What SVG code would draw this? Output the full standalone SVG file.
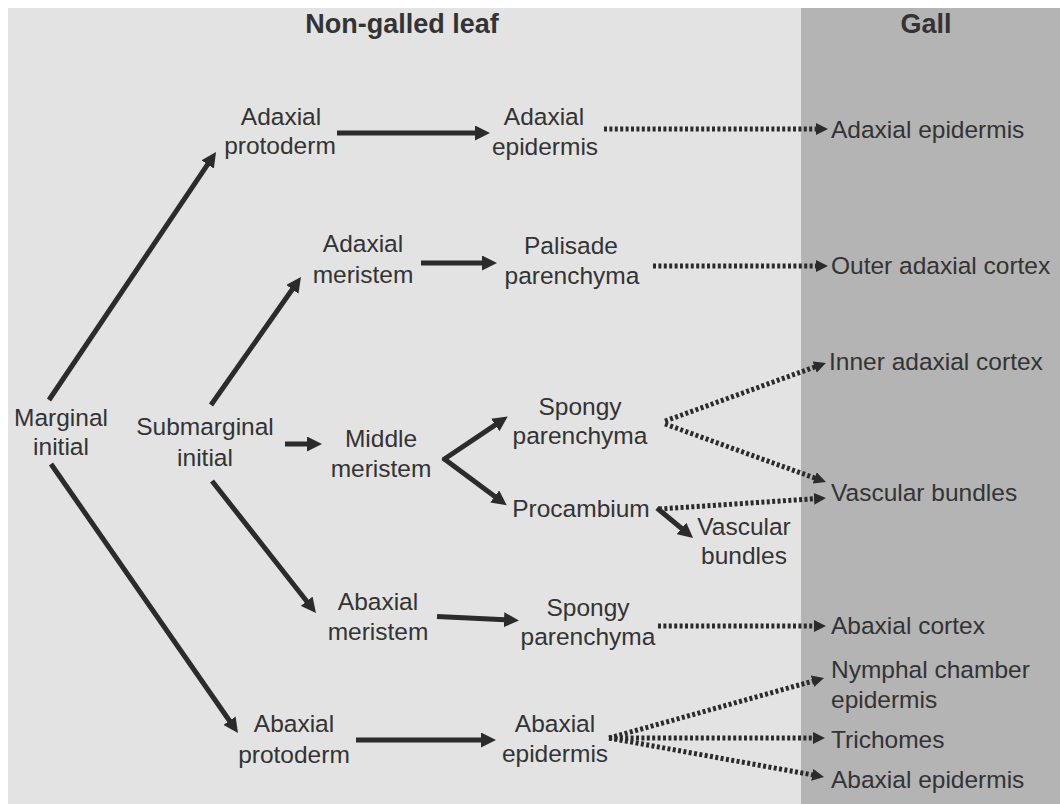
<svg xmlns="http://www.w3.org/2000/svg" width="1060" height="804" viewBox="0 0 1060 804">
<style>
text{font-family:"Liberation Sans",Arial,sans-serif;font-size:24.5px;fill:#333333}
.m{text-anchor:middle}
.h{font-weight:bold;font-size:27px;text-anchor:middle}
.s{stroke:#2b2b2b;stroke-width:5;fill:none}
.d{stroke:#2b2b2b;stroke-width:5;fill:none;stroke-dasharray:3 2.4}
</style>
<defs>
<marker id="ah" markerUnits="userSpaceOnUse" markerWidth="15" markerHeight="15" viewBox="0 0 15 15" refX="1" refY="7.5" orient="auto"><path d="M0,0 L15,7.5 L0,15 z" fill="#2b2b2b"/></marker>
<marker id="ad" markerUnits="userSpaceOnUse" markerWidth="12" markerHeight="12" viewBox="0 0 12 12" refX="1" refY="6" orient="auto"><path d="M0,0 L12,6 L0,12 z" fill="#2b2b2b"/></marker>
</defs>
<rect x="0" y="0" width="1060" height="804" fill="#ffffff"/>
<rect x="8" y="8" width="793" height="796" fill="#e3e3e3"/>
<rect x="801" y="8" width="259" height="796" fill="#b4b4b4"/>
<g id="titles">
<text class="h" x="402" y="33">Non-galled leaf</text>
<text class="h" x="926" y="33">Gall</text>
</g>
<g id="connectors">
<line class="s" x1="49" y1="400" x2="208.2" y2="163.6" marker-end="url(#ah)"/>
<line class="s" x1="51" y1="464" x2="230" y2="721.5" marker-end="url(#ah)"/>
<line class="s" x1="337" y1="133" x2="476" y2="133" marker-end="url(#ah)"/>
<line class="s" x1="211" y1="405" x2="292.9" y2="288.5" marker-end="url(#ah)"/>
<line class="s" x1="421" y1="263" x2="483" y2="263" marker-end="url(#ah)"/>
<line class="s" x1="285" y1="444" x2="308" y2="444" marker-end="url(#ah)"/>
<line class="s" x1="443" y1="460" x2="496.1" y2="424.4" marker-end="url(#ah)"/>
<line class="s" x1="443" y1="458" x2="495.5" y2="497" marker-end="url(#ah)"/>
<line class="s" x1="212" y1="481" x2="307.3" y2="602" marker-end="url(#ah)"/>
<line class="s" x1="437" y1="616.5" x2="505" y2="619.8" marker-end="url(#ah)"/>
<line class="s" x1="356" y1="740" x2="482" y2="740" marker-end="url(#ah)"/>
<line class="s" x1="657" y1="508" x2="682.3" y2="529" marker-end="url(#ah)"/>
<line class="d" x1="604" y1="129" x2="817" y2="129" marker-end="url(#ad)"/>
<line class="d" x1="653" y1="266" x2="817" y2="266" marker-end="url(#ad)"/>
<line class="d" x1="665" y1="421" x2="815.6" y2="366.7" marker-end="url(#ad)"/>
<line class="d" x1="665" y1="424" x2="815.6" y2="478.3" marker-end="url(#ad)"/>
<line class="d" x1="659" y1="509" x2="815" y2="498.7" marker-end="url(#ad)"/>
<line class="d" x1="658" y1="626" x2="815" y2="626" marker-end="url(#ad)"/>
<line class="d" x1="609" y1="738" x2="813.4" y2="681" marker-end="url(#ad)"/>
<line class="d" x1="609" y1="738" x2="814" y2="738" marker-end="url(#ad)"/>
<line class="d" x1="609" y1="738" x2="813.2" y2="775" marker-end="url(#ad)"/>
</g>
<g id="marginal-initial"><text class="m" x="61" y="426">Marginal</text><text class="m" x="61" y="455">initial</text></g>
<g id="submarginal-initial"><text class="m" x="205" y="435">Submarginal</text><text class="m" x="205" y="466">initial</text></g>
<g id="adaxial-protoderm"><text class="m" x="281" y="125">Adaxial</text><text class="m" x="280" y="154">protoderm</text></g>
<g id="adaxial-epidermis"><text class="m" x="544" y="125">Adaxial</text><text class="m" x="545" y="155">epidermis</text></g>
<g id="adaxial-meristem"><text class="m" x="363" y="252">Adaxial</text><text class="m" x="363" y="283">meristem</text></g>
<g id="palisade-parenchyma"><text class="m" x="571" y="254">Palisade</text><text class="m" x="572" y="284">parenchyma</text></g>
<g id="middle-meristem"><text class="m" x="381" y="447">Middle</text><text class="m" x="381" y="477">meristem</text></g>
<g id="spongy-parenchyma-1"><text class="m" x="580" y="415">Spongy</text><text class="m" x="580" y="444">parenchyma</text></g>
<g id="procambium"><text class="m" x="581" y="517">Procambium</text></g>
<g id="vascular-bundles-leaf"><text class="m" x="744" y="535">Vascular</text><text class="m" x="744" y="564">bundles</text></g>
<g id="abaxial-meristem"><text class="m" x="378" y="610">Abaxial</text><text class="m" x="378" y="640">meristem</text></g>
<g id="spongy-parenchyma-2"><text class="m" x="588" y="616">Spongy</text><text class="m" x="588" y="645">parenchyma</text></g>
<g id="abaxial-protoderm"><text class="m" x="294" y="732">Abaxial</text><text class="m" x="294" y="763">protoderm</text></g>
<g id="abaxial-epidermis"><text class="m" x="555" y="732">Abaxial</text><text class="m" x="555" y="762">epidermis</text></g>
<g id="gall-adaxial-epidermis"><text x="831" y="138">Adaxial epidermis</text></g>
<g id="gall-outer-adaxial-cortex"><text x="831" y="274">Outer adaxial cortex</text></g>
<g id="gall-inner-adaxial-cortex"><text x="829" y="370">Inner adaxial cortex</text></g>
<g id="gall-vascular-bundles"><text x="831" y="501">Vascular bundles</text></g>
<g id="gall-abaxial-cortex"><text x="831" y="634">Abaxial cortex</text></g>
<g id="gall-nymphal-chamber-epidermis"><text x="831" y="678">Nymphal chamber</text><text x="831" y="708">epidermis</text></g>
<g id="gall-trichomes"><text x="831" y="748">Trichomes</text></g>
<g id="gall-abaxial-epidermis"><text x="831" y="788">Abaxial epidermis</text></g>
</svg>
